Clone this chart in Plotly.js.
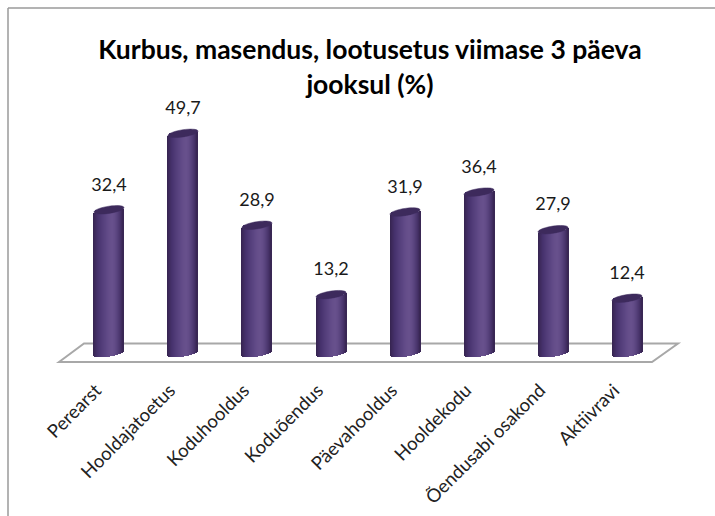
<!DOCTYPE html>
<html><head><meta charset="utf-8">
<script src="https://cdn.plot.ly/plotly-3.0.1.min.js"></script>
<style>html,body{margin:0;padding:0;background:#fff}</style></head>
<body><div id="chart" style="width:715px;height:516px"></div>
<script>
const categories = ["Perearst","Hooldajatoetus","Koduhooldus","Koduõendus","Päevahooldus","Hooldekodu","Õendusabi osakond","Aktiivravi"];
const values = [32.4,49.7,28.9,13.2,31.9,36.4,27.9,12.4];
const shadeStops = [[53,35,79],[62,42,93],[68,48,106],[75,54,114],[81,60,120],[87,65,126],[92,70,131],[98,75,136],[102,79,139],[103,80,140],[99,76,136],[91,69,128],[80,59,116],[68,48,102],[53,36,79]];
const titleText = "Kurbus, masendus, lootusetus viimase 3 päeva<br>jooksul (%)";

const W=715,H=516,mL=50,mR=25,mT=100,mB=145;
const pxPerCat=74, pxPerVal=4.42;
const xr=[-0.797,7.851], yr=[-4.07,57.24];
const barPx=30, catW=barPx/pxPerCat;
const capA=barPx/2, capB=3.6, tiltPx=2.2;
const dv=p=>p/pxPerVal;
const px=x=>(x-mL)/(W-mL-mR), py=y=>1-(y-mT)/(H-mT-mB);

function shadeAt(f){
  const p=f*(shadeStops.length-1), i=Math.min(Math.floor(p),shadeStops.length-2), t=p-i;
  const a=shadeStops[i], b=shadeStops[i+1];
  return 'rgb('+a.map((c,j)=>Math.round(c+(b[j]-c)*t)).join(',')+')';
}

const traces=[{
  type:'bar',x:categories,y:values,width:catW-0.02,
  marker:{color:'#4f3a76',line:{width:0}},
  hoverinfo:'x+y',showlegend:false
}];
const n=30;
for(let k=0;k<n;k++){
  const u=(k+0.5)/n*2-1;
  const ell=Math.sqrt(1-u*u)*capB, tilt=u*tiltPx;
  traces.push({
    type:'bar',x:categories,
    base:values.map(()=>dv(-ell+tilt)),
    y:values.map(v=>v),
    width:catW/n*1.5,
    offset:(k/n-0.5)*catW,
    marker:{color:shadeAt((k+0.5)/n),line:{width:0}},
    hoverinfo:'skip',showlegend:false
  });
}
traces.push({
  type:'scatter',mode:'markers+text',x:categories,y:values,
  marker:{size:22,opacity:0},
  text:values.map(v=>v.toFixed(1).replace('.',',')),
  textposition:'top center',cliponaxis:false,
  textfont:{family:'Lato, Carlito, sans-serif',size:18,color:'#1a1a1a'},
  hoverinfo:'skip',showlegend:false
});

function capPath(i,v){
  const pts=[];
  for(let t=0;t<=36;t++){
    const a=t/36*2*Math.PI, u=Math.cos(a);
    const yp=Math.sin(a)*capB+u*tiltPx;
    pts.push((t?'L':'M')+(i+u*catW/2).toFixed(4)+','+(v+dv(yp)).toFixed(4));
  }
  return pts.join(' ')+' Z';
}
const shapes=[
  {type:'line',xref:'paper',yref:'paper',x0:px(8),x1:px(715),y0:py(8),y1:py(8),line:{color:'#9a9a9a',width:1.5}},
  {type:'line',xref:'paper',yref:'paper',x0:px(8),x1:px(8),y0:py(8),y1:py(516),line:{color:'#9a9a9a',width:1.5}},
  {type:'path',xref:'paper',yref:'paper',layer:'below',
   path:`M${px(59)},${py(362)} L${px(84)},${py(343.5)} L${px(678)},${py(343.5)} L${px(652)},${py(362)} Z`,
   fillcolor:'#ffffff',line:{color:'#a8a8a8',width:2}}
];
values.forEach((v,i)=>shapes.push({type:'path',xref:'x',yref:'y',layer:'above',path:capPath(i,v),
  fillcolor:'#3d2a5c',line:{color:'#3d2a5c',width:0.5}}));

const layout={
  width:W,height:H,margin:{l:mL,r:mR,t:mT,b:mB,pad:0},
  paper_bgcolor:'#fff',plot_bgcolor:'rgba(0,0,0,0)',
  barmode:'overlay',showlegend:false,bargap:0,
  title:{text:titleText,font:{family:'Lato, Carlito, sans-serif',size:26.5,color:'#000',weight:700},
    x:0.5,xref:'paper',xanchor:'center',y:0.885,yanchor:'middle'},
  xaxis:{type:'category',range:xr,tickmode:'array',tickvals:categories,ticktext:categories,
    tickangle:-45,showgrid:false,zeroline:false,showline:false,ticks:'',
    ticklabelstandoff:4,ticklabelshift:-13,
    tickfont:{family:'Lato, Carlito, sans-serif',size:18.5,color:'#222'}},
  yaxis:{range:yr,visible:false,showgrid:false,zeroline:false},
  shapes
};
Plotly.newPlot('chart',traces,layout,{displayModeBar:false,responsive:false});
</script></body></html>
